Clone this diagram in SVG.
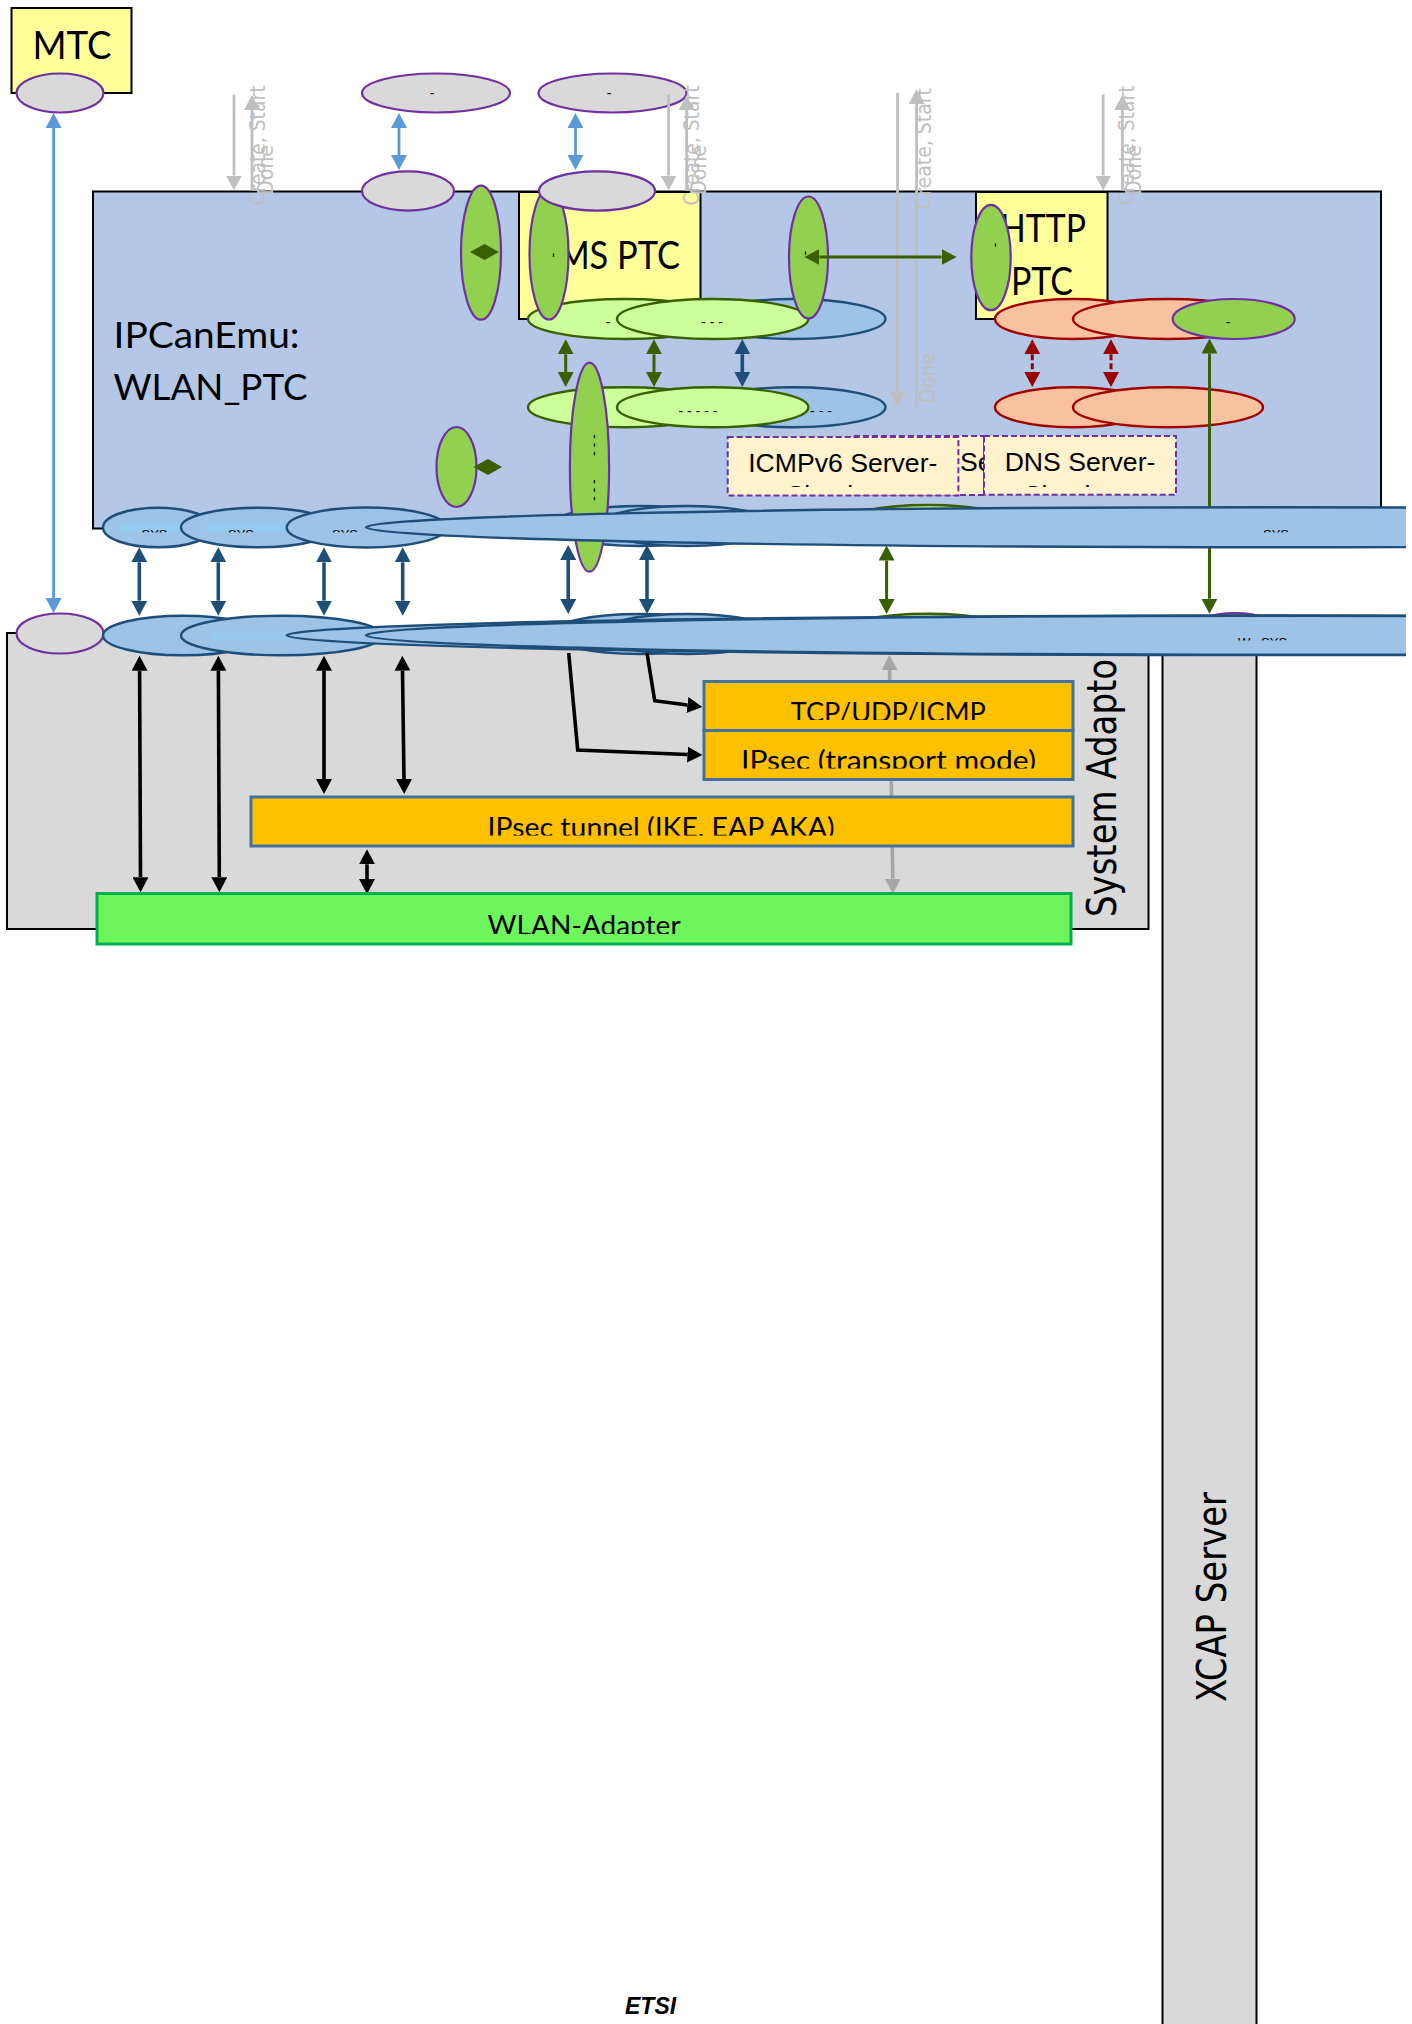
<svg xmlns="http://www.w3.org/2000/svg" width="1412" height="2024" viewBox="0 0 1412 2024">
<style>
text{font-family:"Liberation Sans",Arial,sans-serif;fill:#000}
.lato{font-family:Lato,"Noto Sans",sans-serif}
.dv{font-family:"DejaVu Sans",sans-serif}
.mark{font-size:14px;text-anchor:middle}
.sys{font-size:13px}
.box{stroke:#000;stroke-width:2}
.ptc{fill:#ff9}
.port{fill:#d9d9d9;stroke:#7030a0;stroke-width:2.2}
.gp{fill:#92d050;stroke:#7030a0;stroke-width:2.2}
.bl{fill:#9dc3e6;stroke:#1f4e79;stroke-width:2.4}
.lg{fill:#cf9;stroke:#386000;stroke-width:2.4}
.rd{fill:#f8c1a0;stroke:#a00000;stroke-width:2.4}
.sim{fill:#fff2cc;stroke:#7030a0;stroke-width:2;stroke-dasharray:6 3}
.or{fill:#ffc000;stroke:#41719c;stroke-width:3}
.hl{fill:#95c9ee}
.gt{fill:#bfbfbf;font-size:21px}
.c{fill:none}
.cblue{stroke:#1f4e79;stroke-width:3.6;marker-start:url(#hblue);marker-end:url(#hblue)}
.cgreen{stroke:#386000;stroke-width:3;marker-start:url(#hgreen);marker-end:url(#hgreen)}
.csky{stroke:#5b9bd5;stroke-width:2.8;marker-start:url(#hsky);marker-end:url(#hsky)}
.cred{stroke:#990000;stroke-width:3;stroke-dasharray:6 3;marker-start:url(#hred);marker-end:url(#hred)}
.cblack{stroke:#000;stroke-width:3.6;marker-start:url(#hblack);marker-end:url(#hblack)}
.cgrey{stroke:#bfbfbf;stroke-width:2.8}
.cdark{stroke:#a6a6a6;stroke-width:3.6;marker-start:url(#hdark);marker-end:url(#hdark)}
</style>
<defs>
<marker id="hblue" markerUnits="userSpaceOnUse" markerWidth="16" markerHeight="16" refX="0" refY="8" orient="auto-start-reverse"><path d="M0 0L15 8L0 16Z" fill="#1f4e79"/></marker>
<marker id="hgreen" markerUnits="userSpaceOnUse" markerWidth="16" markerHeight="16" refX="0" refY="8" orient="auto-start-reverse"><path d="M0 0L15 8L0 16Z" fill="#386000"/></marker>
<marker id="hsky" markerUnits="userSpaceOnUse" markerWidth="16" markerHeight="16" refX="0" refY="8" orient="auto-start-reverse"><path d="M0 0L15 8L0 16Z" fill="#5b9bd5"/></marker>
<marker id="hred" markerUnits="userSpaceOnUse" markerWidth="16" markerHeight="16" refX="0" refY="8" orient="auto-start-reverse"><path d="M0 0L15 8L0 16Z" fill="#990000"/></marker>
<marker id="hblack" markerUnits="userSpaceOnUse" markerWidth="16" markerHeight="16" refX="0" refY="8" orient="auto-start-reverse"><path d="M0 0L15 8L0 16Z" fill="#000"/></marker>
<marker id="hdark" markerUnits="userSpaceOnUse" markerWidth="16" markerHeight="16" refX="0" refY="8" orient="auto-start-reverse"><path d="M0 0L15 8L0 16Z" fill="#a6a6a6"/></marker>
<marker id="hgrey" markerUnits="userSpaceOnUse" markerWidth="16" markerHeight="16" refX="0" refY="8" orient="auto"><path d="M0 0L15 8L0 16Z" fill="#bfbfbf"/></marker>
<marker id="hblack1" markerUnits="userSpaceOnUse" markerWidth="16" markerHeight="16" refX="0" refY="8" orient="auto"><path d="M0 0L15 8L0 16Z" fill="#000"/></marker>
<clipPath id="page"><rect x="0" y="0" width="1406" height="2024"/></clipPath>
<clipPath id="cTcp"><rect x="704" y="690" width="369" height="30"/></clipPath>
<clipPath id="cIps"><rect x="704" y="735" width="369" height="33.5"/></clipPath>
<clipPath id="cTun"><rect x="250" y="800" width="823" height="35.5"/></clipPath>
<clipPath id="cWl"><rect x="96" y="900" width="975" height="34"/></clipPath>
<clipPath id="cSim"><rect x="720" y="440" width="470" height="47"/></clipPath>
<clipPath id="cRow1"><rect x="100" y="520" width="1300" height="12.5"/></clipPath>
<clipPath id="cRow2"><rect x="100" y="625" width="1300" height="15.5"/></clipPath>
</defs>

<g id="xcap-server">
<rect class="box" x="1162.5" y="640" width="94" height="1400" fill="#d9d9d9" stroke-width="1.6"/>
<text class="dv" font-size="41" textLength="210" lengthAdjust="spacingAndGlyphs" transform="translate(1226 1702) rotate(-90)">XCAP Server</text>
</g>
<g id="system-adaptor">
<rect class="box" x="7" y="633" width="1141.5" height="296" fill="#d9d9d9"/>
<text class="dv" font-size="41" textLength="272" lengthAdjust="spacingAndGlyphs" transform="translate(1115.5 917) rotate(-90)">System Adaptor</text>
</g>
<g id="ipcanemu">
<rect class="box" x="93" y="191.5" width="1288" height="337" fill="#b4c7e7"/>
<text class="lato" font-size="37" x="113.5" y="347.5" textLength="186" lengthAdjust="spacingAndGlyphs">IPCanEmu:</text>
<text class="lato" font-size="37" x="113.5" y="399.5" textLength="194" lengthAdjust="spacingAndGlyphs">WLAN_PTC</text>
</g>
<g id="mtc">
<rect class="box ptc" x="11.5" y="8" width="120" height="85"/>
<text class="lato" font-size="38" x="32.5" y="59" textLength="79" lengthAdjust="spacingAndGlyphs">MTC</text>
<ellipse class="port" cx="60" cy="93" rx="43.5" ry="19.5"/>
</g>
<g id="ims-ptc">
<rect class="box ptc" x="519" y="192" width="181.5" height="127"/>
<text class="lato" font-size="38" x="548" y="269" textLength="132" lengthAdjust="spacingAndGlyphs">IMS PTC</text>
</g>
<g id="http-ptc">
<rect class="box ptc" x="976" y="192" width="131.5" height="127"/>
<text class="lato" font-size="38" x="1000" y="242" textLength="86" lengthAdjust="spacingAndGlyphs">HTTP</text>
<text class="lato" font-size="38" x="1011" y="295" textLength="62" lengthAdjust="spacingAndGlyphs">PTC</text>
</g>
<g id="port-top-1"><ellipse class="port" cx="436" cy="93" rx="74" ry="19.5"/><text class="mark" x="432" y="98">-</text></g>
<g id="port-top-2"><ellipse class="port" cx="612.5" cy="93" rx="74" ry="19.5"/><text class="mark" x="609" y="98">-</text></g>
<g id="port-mid-1"><ellipse class="port" cx="408" cy="191" rx="46" ry="19.6"/></g>
<g id="port-green-1"><ellipse class="gp" cx="481" cy="252.7" rx="20" ry="67"/></g>
<g id="blue-a"><ellipse class="bl" cx="793" cy="319" rx="92.5" ry="20"/></g>
<g id="lg-a"><ellipse class="lg" cx="625" cy="319" rx="97" ry="20"/><text class="mark" x="608" y="327">-</text></g>
<g id="port-green-2"><ellipse class="gp" cx="549" cy="254" rx="19.5" ry="65.5"/><text class="mark" transform="translate(552 255) rotate(90)" y="3">-</text></g>
<g id="port-mid-2"><ellipse class="port" cx="597" cy="191" rx="58" ry="19.6"/></g>
<g id="lg-b"><ellipse class="lg" cx="712.7" cy="319" rx="95.7" ry="20"/><text class="mark" x="712" y="327">-   - -</text></g>
<g id="port-green-3"><ellipse class="gp" cx="808.5" cy="257.5" rx="19.5" ry="61"/><text class="mark" transform="translate(804 253) rotate(90)" y="3">-</text></g>
<g id="port-green-4"><ellipse class="gp" cx="991" cy="257.5" rx="19.7" ry="52.7"/><text class="mark" transform="translate(994 245) rotate(90)" y="3">-</text></g>
<g id="blue-b"><ellipse class="bl" cx="793" cy="407.3" rx="92.5" ry="20"/><text class="mark" x="821" y="416">- - -</text></g>
<g id="lg-c"><ellipse class="lg" cx="625" cy="407.3" rx="97" ry="20"/></g>
<g id="lg-d"><ellipse class="lg" cx="712.7" cy="407.3" rx="95.7" ry="20"/><text class="mark" x="698" y="416">- - -   - -</text></g>
<g id="rd-a"><ellipse class="rd" cx="1073" cy="319" rx="78" ry="20"/></g>
<g id="rd-b"><ellipse class="rd" cx="1168" cy="319" rx="95" ry="20"/></g>
<g id="port-green-5"><ellipse class="gp" cx="1233.7" cy="319" rx="61" ry="20"/><text class="mark" x="1228" y="327">-</text></g>
<g id="rd-c"><ellipse class="rd" cx="1073" cy="407.3" rx="78" ry="20"/></g>
<g id="rd-d"><ellipse class="rd" cx="1168" cy="407.3" rx="95" ry="20"/></g>
<g id="port-green-6"><ellipse class="gp" cx="456.5" cy="467" rx="20" ry="40"/></g>

<g id="sim-middle"><rect class="sim" x="854" y="436" width="130" height="59"/>
<text font-size="26.6" x="960" y="471">Server-</text></g>
<g id="sim-icmpv6"><rect class="sim" x="727.7" y="437" width="230.7" height="58.4"/>
<text font-size="26.6" x="842.8" y="472" text-anchor="middle">ICMPv6 Server-</text><text font-size="26.6" x="842.8" y="504" text-anchor="middle" clip-path="url(#cSim)">Simulator</text></g>
<g id="sim-dns"><rect class="sim" x="984" y="436" width="192" height="58.7"/>
<text font-size="26.6" x="1080" y="471" text-anchor="middle">DNS Server-</text><text font-size="26.6" x="1080" y="504" text-anchor="middle" clip-path="url(#cSim)">Simulator</text></g>

<g id="b-up-5"><ellipse class="bl" cx="640" cy="526" rx="90" ry="20"/></g>
<g id="b-up-6"><ellipse class="bl" cx="687" cy="526" rx="90" ry="20"/></g>
<g id="g-up-7"><ellipse class="lg" cx="928" cy="525" rx="90" ry="20"/></g>
<g id="b-lo-5"><ellipse class="bl" cx="640" cy="634" rx="90" ry="20"/></g>
<g id="b-lo-6"><ellipse class="bl" cx="687" cy="634" rx="90" ry="20"/></g>
<g id="g-lo-7"><ellipse class="lg" cx="928" cy="633.7" rx="90" ry="20"/></g>
<g id="p-lo-8"><ellipse class="gp" cx="1235" cy="633" rx="47" ry="20"/></g>
<g id="port-green-7"><ellipse class="gp" cx="589.5" cy="467.2" rx="19.6" ry="104.5"/>
<text class="mark" transform="translate(593 445) rotate(90)" y="3">- - -</text><text class="mark" transform="translate(593 490) rotate(90)" y="3">- - -</text></g>
<g id="port-lower"><ellipse class="port" cx="60" cy="633.5" rx="43.5" ry="20"/></g>

<g id="connectors" class="c">
<path class="csky" d="M53.6 128V598"/>
<path class="csky" d="M399 128V155"/>
<path class="csky" d="M575.5 128V155"/>
<path class="cgrey" marker-end="url(#hgrey)" d="M234 94.6V175.5"/>
<path class="cgrey" marker-end="url(#hgrey)" d="M252 191V110"/>
<path class="cgrey" marker-end="url(#hgrey)" d="M668.6 94.6V175.5"/>
<path class="cgrey" marker-end="url(#hgrey)" d="M686.6 191V110"/>
<path class="cgrey" marker-end="url(#hgrey)" d="M897.5 93V392"/>
<path class="cgrey" marker-end="url(#hgrey)" d="M916.6 407V104"/>
<path class="cgrey" marker-end="url(#hgrey)" d="M1103.2 94.6V175.5"/>
<path class="cgrey" marker-end="url(#hgrey)" d="M1122.3 191V110"/>
<path class="cgreen" d="M819.4 257H941.6"/>
<path fill="#386000" d="M470 252L484.5 244L499 252L484.5 260Z"/>
<path fill="#386000" d="M473.5 467L488 459L502 467L488 475Z"/>
<path class="cgreen" d="M565.7 354.3V372"/>
<path class="cgreen" d="M654 354.3V372"/>
<path class="cblue" d="M742.3 354.3V372"/>
<path class="cred" d="M1032.3 354.3V372"/>
<path class="cred" d="M1111 354.3V372"/>
<path class="cgreen" d="M1209.5 353.6V598.7"/>
<path class="cblue" d="M139.3 562.3V600.7"/>
<path class="cblue" d="M218.3 562.3V600.7"/>
<path class="cblue" d="M324 562.3V600.7"/>
<path class="cblue" d="M402.7 562.3V600.7"/>
<path class="cblue" d="M568.2 560V599"/>
<path class="cblue" d="M647 560V599"/>
<path class="cgreen" d="M886.6 560.6V599"/>
<path class="cblack" d="M139.6 670.7L140.5 877.3"/>
<path class="cblack" d="M218.4 670.7L219.3 877.3"/>
<path class="cblack" d="M324 670.7V779"/>
<path class="cblack" d="M402.5 670.7L404 779"/>
<path class="cblack" d="M367 864.3V879"/>
<path stroke="#000" stroke-width="3.6" marker-end="url(#hblack1)" d="M568.7 653L577.7 750L687.4 754.5"/>
<path stroke="#000" stroke-width="3.6" marker-end="url(#hblack1)" d="M647 653L654.7 700.7L687.4 705"/>
<path class="cdark" d="M889.6 670L892.8 878.7"/>
</g>

<g id="tcp-udp-icmp"><rect class="or" x="704" y="681.5" width="369" height="49"/>
<text class="lato" font-size="26" x="790.8" y="722" textLength="195" lengthAdjust="spacingAndGlyphs" clip-path="url(#cTcp)">TCP/UDP/ICMP</text></g>
<g id="ipsec-transport"><rect class="or" x="704" y="730.5" width="369" height="49"/>
<text class="lato" font-size="26" x="741" y="770" textLength="295" lengthAdjust="spacingAndGlyphs" clip-path="url(#cIps)">IPsec (transport mode)</text></g>
<g id="ipsec-tunnel"><rect class="or" x="251" y="797" width="822" height="49"/>
<text class="lato" font-size="26" x="487.6" y="837" textLength="347" lengthAdjust="spacingAndGlyphs" clip-path="url(#cTun)">IPsec tunnel (IKE, EAP AKA)</text></g>
<g id="wlan-adapter"><rect x="97" y="893.5" width="974" height="50.5" fill="#6ff55c" stroke="#00b050" stroke-width="3"/>
<text class="lato" font-size="26" x="487.6" y="935" textLength="193" lengthAdjust="spacingAndGlyphs" clip-path="url(#cWl)">WLAN-Adapter</text></g>

<g id="row-upper" clip-path="url(#page)">
<g id="up-1"><ellipse class="bl" cx="158" cy="527.5" rx="55" ry="19.8"/><rect class="hl" x="119" y="523" width="61" height="9"/><text class="sys" x="141.5" y="538.5" clip-path="url(#cRow1)">SYS</text></g>
<g id="up-2"><ellipse class="bl" cx="258" cy="527.5" rx="77" ry="19.8"/><rect class="hl" x="205" y="523" width="82" height="9"/><text class="sys" x="228" y="538.5" clip-path="url(#cRow1)">SYS</text></g>
<g id="up-3"><ellipse class="bl" cx="366.7" cy="527.5" rx="80" ry="20"/><text class="sys" x="332" y="538.5" clip-path="url(#cRow1)">SYS</text></g>
<g id="up-4"><ellipse class="bl" cx="1272" cy="527.3" rx="906" ry="20"/><text class="sys" x="1263" y="538.5" clip-path="url(#cRow1)">SYS</text></g>
</g>
<g id="row-lower" clip-path="url(#page)">
<g id="lo-1"><ellipse class="bl" cx="183" cy="635.5" rx="80" ry="19.8"/></g>
<g id="lo-2"><ellipse class="bl" cx="281.7" cy="635.5" rx="100.7" ry="19.8"/><rect class="hl" x="211" y="632" width="76" height="8"/></g>
<g id="lo-3"><ellipse class="bl" cx="1272" cy="635.3" rx="985.5" ry="19.8"/></g>
<g id="lo-4"><ellipse class="bl" cx="1272" cy="635.3" rx="906" ry="19.5"/><text class="sys" x="1238" y="647" clip-path="url(#cRow2)" font-size="15">W_ SYS</text></g>
</g>

<g id="labels-grey">
<text class="dv gt" textLength="120" lengthAdjust="spacingAndGlyphs" transform="translate(264.5 205.5) rotate(-90)">Create, Start</text>
<text class="dv gt" textLength="50" lengthAdjust="spacingAndGlyphs" transform="translate(272.5 195) rotate(-90)">Done</text>
<text class="dv gt" textLength="120" lengthAdjust="spacingAndGlyphs" transform="translate(699 205.5) rotate(-90)">Create, Start</text>
<text class="dv gt" textLength="50" lengthAdjust="spacingAndGlyphs" transform="translate(705.5 195) rotate(-90)">Done</text>
<text class="dv gt" textLength="121" lengthAdjust="spacingAndGlyphs" transform="translate(930.5 209) rotate(-90)">Create, Start</text>
<text class="dv gt" textLength="50" lengthAdjust="spacingAndGlyphs" transform="translate(935 403) rotate(-90)">Done</text>
<text class="dv gt" textLength="120" lengthAdjust="spacingAndGlyphs" transform="translate(1134 205.5) rotate(-90)">Create, Start</text>
<text class="dv gt" textLength="50" lengthAdjust="spacingAndGlyphs" transform="translate(1140.5 195) rotate(-90)">Done</text>
</g>
<g id="footer"><text font-size="23" font-weight="bold" font-style="italic" x="625" y="2013.5">ETSI</text></g>
</svg>
